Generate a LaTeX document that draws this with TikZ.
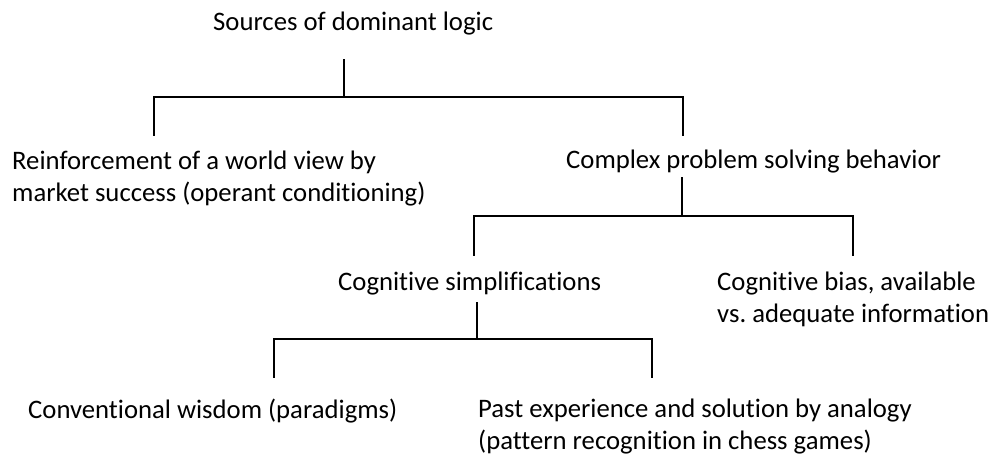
\documentclass[tikz,border=0pt]{standalone}
\usepackage{fontspec}
\setmainfont{Carlito}[Ligatures=NoCommon]
\frenchspacing
\begin{document}
\begin{tikzpicture}[x=1pt,y=-1pt,
  label/.style={inner sep=0pt,anchor=base west,align=left,font=\fontsize{26.7}{32}\selectfont},
  branch/.style={line width=2.2pt,line cap=rect}]
\useasboundingbox (0,0) rectangle (992,458);

% level 0 (multi-line labels are placed by the baseline of their last line)
\node[label] (src) at (213,30) {Sources of dominant logic};
\coordinate (srcT) at (344,60);
\coordinate (srcJ) at (344,97);
\coordinate (srcL) at (154,97);
\coordinate (srcR) at (683,97);
\coordinate (srcLB) at (154,135);
\coordinate (srcRB) at (683,135);
\draw[branch] (srcT) -- (srcJ);
\draw[branch] (srcLB) -- (srcL) -- (srcR) -- (srcRB);

% level 1
\node[label] (reinf) at (12,201) {Reinforcement of a world view by\\market success (operant conditioning)};
\node[label] (cpsb) at (566,168) {Complex problem solving behavior};
\coordinate (cpsbT) at (682,178);
\coordinate (cpsbJ) at (682,216);
\coordinate (cpsbL) at (474,216);
\coordinate (cpsbR) at (853,216);
\coordinate (cpsbLB) at (474,255);
\coordinate (cpsbRB) at (853,255);
\draw[branch] (cpsbT) -- (cpsbJ);
\draw[branch] (cpsbLB) -- (cpsbL) -- (cpsbR) -- (cpsbRB);

% level 2
\node[label] (simp) at (338,290) {Cognitive simplifications};
\node[label] (bias) at (717,322) {Cognitive bias, available\\vs. adequate information};
\coordinate (simpT) at (477,303);
\coordinate (simpJ) at (477,339);
\coordinate (simpL) at (274,339);
\coordinate (simpR) at (652,339);
\coordinate (simpLB) at (274,377);
\coordinate (simpRB) at (652,377);
\draw[branch] (simpT) -- (simpJ);
\draw[branch] (simpLB) -- (simpL) -- (simpR) -- (simpRB);

% level 3
\node[label] (conv) at (28,418) {Conventional wisdom (paradigms)};
\node[label] (past) at (478,449) {Past experience and solution by analogy\\(pattern recognition in chess games)};
\end{tikzpicture}
\end{document}
